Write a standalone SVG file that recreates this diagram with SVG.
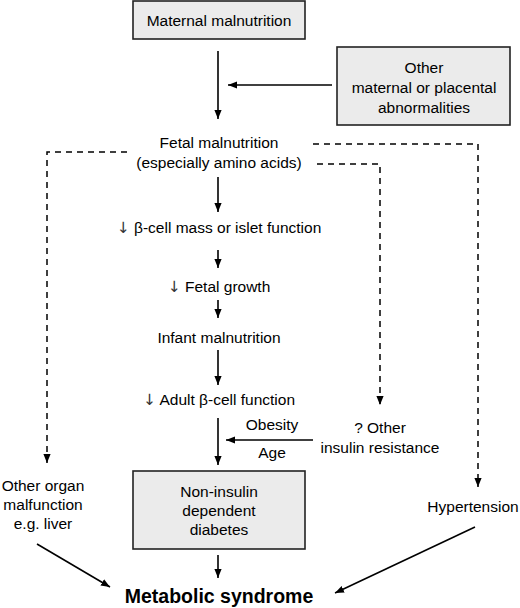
<svg xmlns="http://www.w3.org/2000/svg" width="520" height="608" viewBox="0 0 520 608">
<defs>
<marker id="ah2" viewBox="0 0 10 10" refX="10" refY="5" markerWidth="9" markerHeight="9" orient="auto" markerUnits="userSpaceOnUse"><path d="M0,1 L10,5 L0,9 Z" fill="#000"/></marker>
</defs>
<style>
text{font-family:"Liberation Sans",Arial,sans-serif;font-size:15.5px;fill:#000;text-anchor:middle}
.dn{font-family:"DejaVu Sans",sans-serif;fill:#333}
.box{fill:#ebebeb;stroke:#222;stroke-width:1.6}
.a{stroke:#000;stroke-width:1.6;fill:none;marker-end:url(#ah2)}
.d{stroke:#000;stroke-width:1.5;fill:none;stroke-dasharray:6,5}
.da{marker-end:url(#ah2)}
.b{font-weight:bold;font-size:19.5px}
</style>
<rect width="520" height="608" fill="#fff"/>
<g id="connectors">
<line class="a" x1="218" y1="51" x2="218" y2="119"/>
<line class="a" x1="332" y1="85" x2="228" y2="85"/>
<line class="a" x1="218" y1="177" x2="218" y2="212"/>
<line class="a" x1="218" y1="250" x2="218" y2="268"/>
<line class="a" x1="218" y1="300" x2="218" y2="318"/>
<line class="a" x1="218" y1="350" x2="218" y2="385"/>
<line class="a" x1="218" y1="418" x2="218" y2="465"/>
<line class="a" x1="313" y1="440" x2="226" y2="440"/>
<line class="a" x1="218" y1="555" x2="218" y2="578"/>
<line class="a" x1="37" y1="544" x2="110" y2="587"/>
<line class="a" x1="475" y1="527" x2="335" y2="593"/>
<polyline class="d da" points="127,152 47,152 47,463"/>
<polyline class="d da" points="313,144 478,144 478,487"/>
<polyline class="d da" points="317,164 380,164 380,405"/>
</g>
<g id="maternal"><rect class="box" x="133" y="1" width="172" height="38"/><text x="219" y="26">Maternal malnutrition</text></g>
<g id="other-maternal"><rect class="box" x="337" y="47" width="173" height="78"/><text x="424" y="73">Other</text><text x="424" y="93">maternal or placental</text><text x="424" y="113">abnormalities</text></g>
<g id="fetal"><text x="219" y="148">Fetal malnutrition</text><text x="219" y="168">(especially amino acids)</text></g>
<g id="beta"><text x="219" y="233"><tspan class="dn">↓</tspan> β-cell mass or islet function</text></g>
<g id="growth"><text x="219" y="292"><tspan class="dn">↓</tspan> Fetal growth</text></g>
<g id="infant"><text x="219" y="343">Infant malnutrition</text></g>
<g id="adult"><text x="219" y="405"><tspan class="dn">↓</tspan> Adult β-cell function</text></g>
<g id="obesity"><text x="272" y="430">Obesity</text><text x="272" y="458">Age</text></g>
<g id="insulin"><text x="380" y="433">? Other</text><text x="380" y="453">insulin resistance</text></g>
<g id="nidd"><rect class="box" x="133" y="471" width="172" height="78"/><text x="219" y="497">Non-insulin</text><text x="219" y="516">dependent</text><text x="219" y="535">diabetes</text></g>
<g id="organ"><text x="43" y="491">Other organ</text><text x="43" y="510">malfunction</text><text x="43" y="529">e.g. liver</text></g>
<g id="hyper"><text x="473" y="512">Hypertension</text></g>
<g id="metabolic"><text class="b" x="219" y="603">Metabolic syndrome</text></g>
</svg>
